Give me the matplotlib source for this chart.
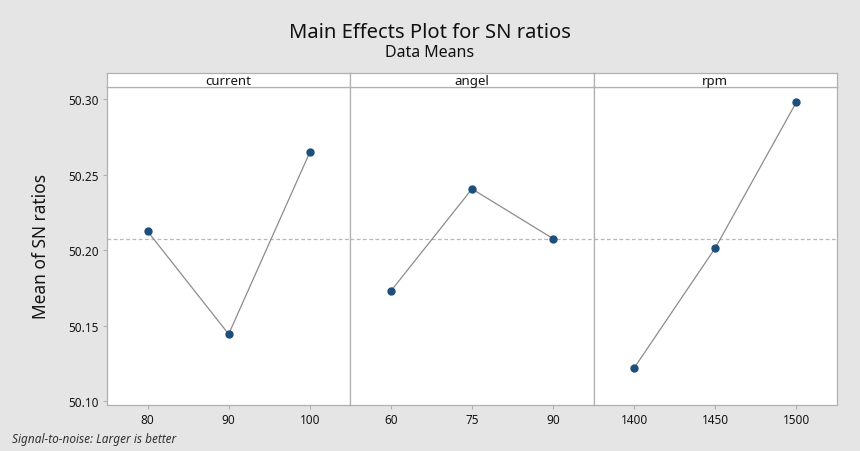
import matplotlib
matplotlib.use("Agg")
import matplotlib.pyplot as plt
import numpy as np

plt.rcParams['font.family'] = ['Noto Sans', 'DejaVu Sans']

factors = ["current", "angel", "rpm"]
levels = [["80", "90", "100"], ["60", "75", "90"], ["1400", "1450", "1500"]]
means = [
    [50.2126, 50.1444, 50.2649],
    [50.1730, 50.2407, 50.2077],
    [50.1220, 50.2016, 50.2983],
]
grand_mean = 50.2073
yticks = [50.10, 50.15, 50.20, 50.25, 50.30]

W, H = 860, 452
fig = plt.figure(figsize=(W / 100, H / 100), dpi=100)
fig.patch.set_facecolor("#e5e5e5")

left_px = 107
right_px = 837
bottom_px = 406
top_px = 87.5
strip_top = 74
panel_w = (right_px - left_px) / 3

edge = "#b0b0b0"
txt = "#151515"
axes = []
for i, (fac, lv, mv) in enumerate(zip(factors, levels, means)):
    x0 = (left_px + i * panel_w) / W
    ax = fig.add_axes([x0, 1 - bottom_px / H, panel_w / W, (bottom_px - top_px) / H])
    ax.set_facecolor("white")
    xs = np.arange(len(lv))
    ax.axhline(grand_mean, color="#b8b8b8", lw=0.9, ls=(0, (3, 2)), zorder=1)
    ax.plot(xs, mv, color="#8c8c8c", lw=0.9, zorder=2)
    ax.plot(xs, mv, 'o', color="#1d4f7a", ms=5, mec="#1d4f7a", zorder=3)
    ax.set_xlim(-0.5, 2.5)
    ax.set_ylim(50.0974, 50.3086)
    ax.set_xticks(xs)
    ax.set_xticklabels(lv, fontsize=8.5)
    ax.set_yticks(yticks)
    if i == 0:
        ax.set_yticklabels([f"{v:.2f}" for v in yticks], fontsize=8.5)
        ax.set_ylabel("Mean of SN ratios", fontsize=12.5, labelpad=13, color=txt)
    else:
        ax.tick_params(axis='y', left=False, labelleft=False)
    ax.tick_params(axis='both', length=3, color=edge, labelcolor=txt, pad=3)
    for s in ax.spines.values():
        s.set_color(edge)
        s.set_linewidth(0.9)
    # strip
    sax = fig.add_axes([x0, 1 - top_px / H, panel_w / W, (top_px - strip_top) / H])
    sax.set_facecolor("white")
    sax.set_xticks([])
    sax.set_yticks([])
    for s in sax.spines.values():
        s.set_color(edge)
        s.set_linewidth(0.9)
    sax.text(0.5, 0.45, fac, ha="center", va="center", fontsize=9.5,
             color=txt, transform=sax.transAxes)
    axes.append(ax)

fig.text(430 / W, 1 - 33 / H, "Main Effects Plot for SN ratios", ha="center",
         va="center", fontsize=14.5, color="#111111", fontweight="medium")
fig.text(430 / W, 1 - 53 / H, "Data Means", ha="center", va="center",
         fontsize=11.5, color="#111111", fontweight="medium")
fig.text(12 / W, 1 - 440 / H, "Signal-to-noise: Larger is better", ha="left",
         va="center", fontsize=8.5, style="italic", color="#333333")

fig.savefig("out.png", dpi=100, facecolor=fig.get_facecolor())
